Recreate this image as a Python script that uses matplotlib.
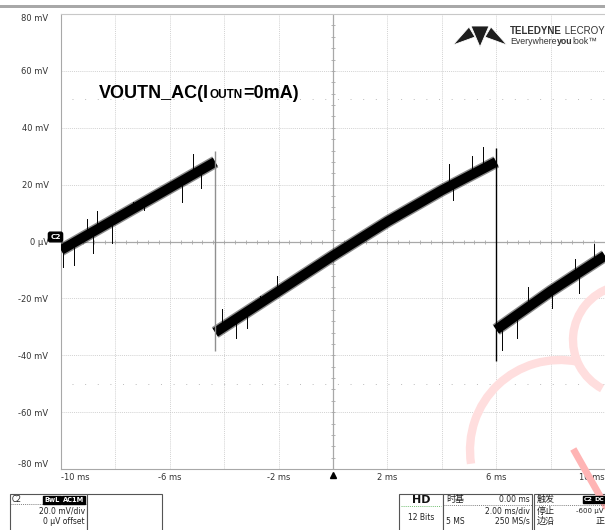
import numpy as np
import matplotlib.pyplot as plt
from matplotlib.patches import Rectangle, Polygon, Arc

plt.rcParams['font.family'] = ['DejaVu Sans', 'Noto Sans CJK SC']

# ---- data (time in ms, voltage in mV) ----
ramp1_t = [-10.0, -4.33]
ramp1_v = [-3.0, 28.0]
ramp2_t = [-4.33, -2.0, 0.0, 2.0, 4.0, 6.0]
ramp2_v = [-32.0, -17.5, -5.0, 7.0, 18.0, 28.0]
ramp3_t = [6.0, 8.0, 10.0]
ramp3_v = [-31.0, -17.5, -5.0]
ramps = [(ramp1_t, ramp1_v), (ramp2_t, ramp2_v), (ramp3_t, ramp3_v)]

drop_t = [-4.33, 6.0]
drop_lo = [-38.5, -42.0]
drop_hi = [32.0, 33.0]

spike_t = [-9.91, -9.54, -9.06, -8.84, -8.66, -8.11, -7.34, -6.94, -5.54, -5.14, -4.84,
           -4.07, -3.56, -3.16, -2.68, -2.06, 4.26, 4.40, 5.10, 5.50,
           6.20, 6.75, 7.16, 8.04, 8.88, 9.03, 9.60]
spike_v = [-7.0, -6.3, 6.0, -2.1, 8.8, 1.4, 11.9, 13.0, 15.8, 28.8, 20.7,
           -25.6, -32.0, -28.5, -21.0, -14.0, 25.3, 16.5, 28.0, 31.3,
           -36.0, -32.0, -18.0, -21.5, -8.0, -16.0, -2.8]

yticks = [80, 60, 40, 20, 0, -20, -40, -60, -80]
ylabels = ['80 mV', '60 mV', '40 mV', '20 mV', '0 µV', '-20 mV', '-40 mV', '-60 mV', '-80 mV']
xticks = [-10, -6, -2, 2, 6, 10]
xlabels = ['-10 ms', '-6 ms', '-2 ms', '2 ms', '6 ms', '10 ms']

W, H = 605, 530


def px(x, y):
    return x / W, 1 - y / H


fig = plt.figure(figsize=(W / 100, H / 100), dpi=100)
ax = fig.add_axes([61 / W, 1 - 469 / H, 544 / W, 455 / H])
ax.set_xlim(-10, 10)
ax.set_ylim(-80, 80)

# grid
gridstyle = dict(color='#c2c2c2', lw=0.5, ls=(0, (1.5, 1.5)), zorder=1)
for gx in np.arange(-8, 10, 2):
    ax.axvline(gx, **gridstyle)
for gy in np.arange(-60, 80, 20):
    ax.axhline(gy, **gridstyle)
for gy in [50, -50]:
    ax.axhline(gy, xmin=0.02, color='#bbbbbb', lw=0.7, ls=(0, (1, 12)), zorder=1)
ax.axhline(0, color='#a8a8a8', lw=0.9, zorder=1)
ax.axvline(0, color='#a8a8a8', lw=0.9, zorder=1)
ax.plot(np.arange(-9.6, 10, 0.4), np.zeros(49), ls='none', marker='|', ms=3,
        mew=0.6, color='#a8a8a8', zorder=1)
ax.plot(np.zeros(39), np.arange(-76, 80, 4), ls='none', marker='_', ms=3,
        mew=0.6, color='#a8a8a8', zorder=1)

# trace
for rt, rv in ramps:
    ax.plot(rt, rv, color='black', lw=9, alpha=0.45, solid_capstyle='butt', zorder=3)
    ax.plot(rt, rv, color='black', lw=7, solid_capstyle='butt', zorder=3)
ax.vlines(drop_t, drop_lo, drop_hi, colors=['#909090', 'black'], lw=1.0, zorder=3)
for st, sv in zip(spike_t, spike_v):
    for rt, rv in ramps:
        if rt[0] <= st <= rt[-1]:
            base = np.interp(st, rt, rv)
    tip = sv + (2.0 if sv > base else -2.0)
    ax.plot([st, st], [base, tip], color='black', lw=0.7, zorder=3)

# axes furniture
ax.spines['right'].set_visible(False)
ax.spines['top'].set_color('#c8c8c8')
ax.spines['left'].set_color('#a8a8a8')
ax.spines['bottom'].set_color('#a8a8a8')
ax.set_yticks(yticks)
ax.set_yticklabels(ylabels)
ax.set_xticks(xticks)
ax.set_xticklabels(xlabels)
ax.tick_params(length=0, labelsize=6, labelcolor='#333333')
ax.tick_params(axis='y', pad=9)
ax.tick_params(axis='x', pad=3)
xl = ax.get_xticklabels()
xl[0].set_ha('left')
xl[-1].set_ha('right')
yl = ax.get_yticklabels()
yl[0].set_va('top')
yl[-1].set_va('bottom')
ax.plot([0], [-82], marker='^', ms=4.5, color='black', clip_on=False)

# channel badge
fig.text(*px(55.5, 237), 'C2', ha='center', va='center', fontsize=5.3, color='white',
         fontweight='bold', bbox=dict(boxstyle='round,pad=0.25', fc='black', ec='black'))

# top bar
fig.patches.append(Rectangle(px(0, 7.5), 1, 3 / H, transform=fig.transFigure,
                             fc='#a8a8a8', ec='none'))

# annotation title
t1 = fig.text(*px(99, 98), 'VOUTN_AC(I', fontsize=13, fontweight='bold',
              family='Liberation Sans', va='baseline')
t2 = ax.annotate('OUTN', xy=(1, 0), xycoords=t1, xytext=(0.5, 0.5),
                 textcoords='offset points', fontsize=8.5, fontweight='bold',
                 family='Liberation Sans', va='bottom')
t3 = ax.annotate('=0mA)', xy=(1, 0), xycoords=(t2, t1), xytext=(0.5, 0),
                 textcoords='offset points', fontsize=13, fontweight='bold',
                 family='Liberation Sans', va='bottom')

# logo
logo = [[(471, 26), (489, 26), (480, 47)],
        [(469, 27), (453, 45), (475, 37)],
        [(491, 27), (507, 45), (485, 37)]]
for poly in logo:
    fig.patches.append(Polygon([px(x, y) for x, y in poly], closed=True,
                               transform=fig.transFigure, fc='#1e1e1e', ec='white', lw=0.6))
lt = fig.text(*px(510, 34), 'TELEDYNE', fontsize=7, fontweight='bold',
              family='Liberation Sans', color='#333333', va='baseline')
ax.annotate(' LECROY', xy=(1, 0), xycoords=lt, fontsize=7, family='Liberation Sans',
            color='#333333', va='bottom')
l2 = fig.text(*px(510, 43.5), 'Everywhere', fontsize=6.3, family='Liberation Sans',
              color='#333333', va='baseline')
l3 = ax.annotate('you', xy=(1, 0), xycoords=l2, fontsize=6.3, fontweight='bold',
                 family='Liberation Sans', color='#333333', va='bottom')
ax.annotate('look\u2122', xy=(1, 0), xycoords=(l3, l2), fontsize=6.3,
            family='Liberation Sans', color='#333333', va='bottom')

# watermark
wm = '#ffdede'
fig.patches.append(Arc(px(628, 340), 110 / W, 110 / H, theta1=105, theta2=245,
                       transform=fig.transFigure, color=wm, lw=6))
fig.patches.append(Arc(px(560, 450), 180 / W, 180 / H, theta1=80, theta2=190,
                       transform=fig.transFigure, color=wm, lw=6))
fig.add_artist(plt.Line2D([575 / W, 605 / W], [1 - 452 / H, 1 - 505 / H],
                          transform=fig.transFigure, color='#ffb4b4', lw=5))


# bottom status panel
def box(x0, x1, ec='#555555'):
    fig.patches.append(Rectangle(px(x0, 540), (x1 - x0) / W, 46 / H,
                                 transform=fig.transFigure, fc='white', ec=ec, lw=0.8))


def dash(x0, x1, y, color='#555555'):
    fig.add_artist(plt.Line2D([x0 / W, x1 / W], [1 - y / H, 1 - y / H],
                              transform=fig.transFigure, color=color, lw=0.5,
                              ls=(0, (1.5, 1.5))))


def badge(x, y, s, size=4.8):
    fig.text(*px(x, y), s, fontsize=size, color='white', fontweight='bold', va='center',
             ha='center', bbox=dict(boxstyle='square,pad=0.15', fc='black', ec='black'))


def txt(x, y, s, ha='left', size=5.5, **kw):
    fig.text(*px(x, y), s, fontsize=size, color='#222222', ha=ha, va='center', **kw)


box(10, 87)
box(87, 162)
txt(12, 499.5, 'C2')
badge(52, 499.5, 'BwL')
badge(73.5, 499.5, 'AC1M')
dash(10, 87, 504)
txt(85, 511, '20.0 mV/div', ha='right')
txt(85, 521, '0 µV offset', ha='right')

box(399, 443)
fig.text(*px(421, 500), 'HD', fontsize=8, fontweight='bold', ha='center', va='center',
         color='#111111')
dash(401, 441, 506, color='#44aa44')
txt(421, 517, '12 Bits', ha='center')

box(443, 532)
txt(446, 499.5, '时基', size=6.5)
txt(530, 500, '0.00 ms', ha='right')
dash(443, 532, 505)
txt(530, 511, '2.00 ms/div', ha='right')
txt(446, 521, '5 MS')
txt(530, 521, '250 MS/s', ha='right')

box(534, 620)
txt(537, 499.5, '触发', size=6.5)
badge(588, 499.5, 'C2', size=4.5)
badge(599, 499.5, 'DC', size=4.5)
dash(534, 605, 505)
txt(537, 511, '停止', size=6.5)
txt(604, 511, '-600 µV', ha='right', size=5)
txt(537, 521.5, '边沿', size=6.5)
txt(596, 521.5, '正', size=6.5)

fig.savefig('out.png', dpi=100)
